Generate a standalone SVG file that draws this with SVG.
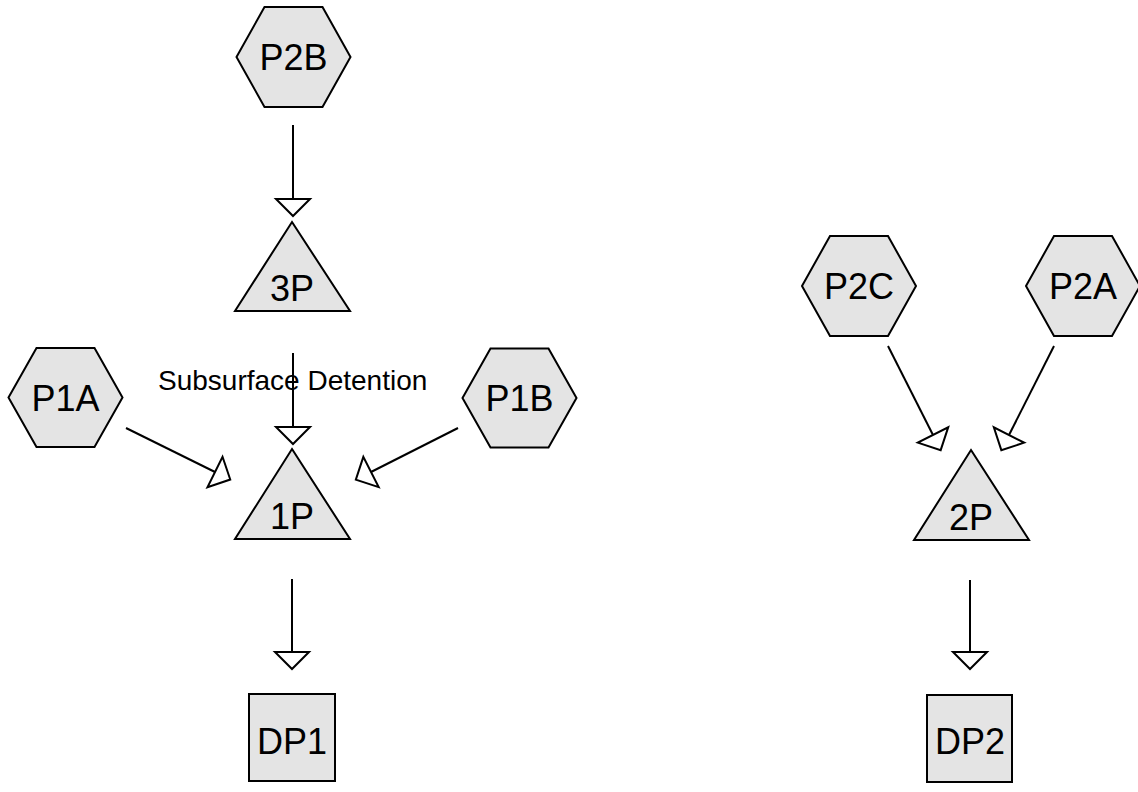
<svg xmlns="http://www.w3.org/2000/svg" width="1138" height="792" viewBox="0 0 1138 792">
<style>
.shape{fill:#e4e4e4;stroke:#000;stroke-width:2;stroke-linejoin:miter}
.lbl{font-family:"Liberation Sans",Arial,sans-serif;font-size:36px;fill:#000;text-anchor:middle}
.edge{stroke:#000;stroke-width:2;fill:none;marker-end:url(#arr)}
.elbl{font-family:"Liberation Sans",Arial,sans-serif;font-size:28px;fill:#000}
</style>
<defs>
<marker id="arr" markerUnits="userSpaceOnUse" viewBox="-2 -20 24 40" markerWidth="24" markerHeight="40" refX="0" refY="0" orient="auto">
<path d="M0,-17 L17,0 L0,17 Z" fill="#fff" stroke="#000" stroke-width="2"/>
</marker>
</defs>
<rect width="1138" height="792" fill="#fff"/>
<g id="connectors">
<line class="edge" x1="293" y1="125" x2="293" y2="199"/>
<line class="edge" x1="293" y1="353" x2="293" y2="427"/>
<line class="edge" x1="126" y1="428" x2="215" y2="472"/>
<line class="edge" x1="458" y1="428" x2="371" y2="472"/>
<line class="edge" x1="292" y1="579" x2="292" y2="652"/>
<line class="edge" x1="888" y1="346" x2="933" y2="435"/>
<line class="edge" x1="1054" y1="346" x2="1009" y2="435"/>
<line class="edge" x1="970" y1="580" x2="970" y2="652"/>
<text class="elbl" x="158" y="390">Subsurface Detention</text>
</g>
<g id="P2B">
<polygon class="shape" points="236.5,57 264.5,7 322.5,7 350.5,57 322.5,107 264.5,107"/>
<text class="lbl" x="293.5" y="70">P2B</text>
</g>
<g id="n3P">
<polygon class="shape" points="292,222 350,311 235,311"/>
<text class="lbl" x="292" y="301">3P</text>
</g>
<g id="P1A">
<polygon class="shape" points="8.5,397.5 36.5,348 94.5,348 122.5,397.5 94.5,447 36.5,447"/>
<text class="lbl" x="65.5" y="411">P1A</text>
</g>
<g id="P1B">
<polygon class="shape" points="462.5,398 490.5,348.5 548.5,348.5 576.5,398 548.5,447.5 490.5,447.5"/>
<text class="lbl" x="519.5" y="411">P1B</text>
</g>
<g id="n1P">
<polygon class="shape" points="292,449 350,539 235,539"/>
<text class="lbl" x="292" y="529">1P</text>
</g>
<g id="DP1">
<rect class="shape" x="249" y="694" width="86" height="87"/>
<text class="lbl" x="292" y="754">DP1</text>
</g>
<g id="P2C">
<polygon class="shape" points="802,286 830,236 888,236 916,286 888,336 830,336"/>
<text class="lbl" x="859" y="299">P2C</text>
</g>
<g id="P2A">
<polygon class="shape" points="1026,286 1054,236 1112,236 1140,286 1112,336 1054,336"/>
<text class="lbl" x="1083" y="299">P2A</text>
</g>
<g id="n2P">
<polygon class="shape" points="971,450 1029,540 914,540"/>
<text class="lbl" x="971" y="530">2P</text>
</g>
<g id="DP2">
<rect class="shape" x="927" y="695" width="85" height="87"/>
<text class="lbl" x="970" y="754">DP2</text>
</g>
</svg>
